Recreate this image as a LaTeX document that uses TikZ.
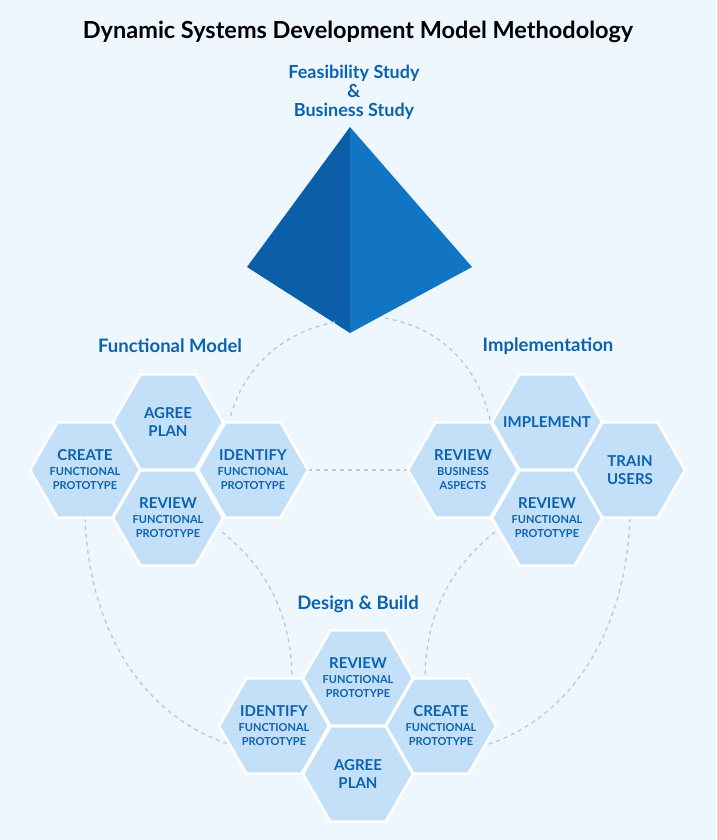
\documentclass[tikz,border=0pt]{standalone}
\usepackage{fontspec}
\setmainfont{Lato}
\begin{document}
\begin{tikzpicture}[x=1pt,y=-1pt,
  hex/.style={fill=hexc,draw=white,line width=2.5pt},
  ht/.style={align=center,text=tc,font=\bfseries\fontsize{15}{18}\selectfont},
  lab/.style={align=center,text=tc,font=\bfseries\fontsize{18.5}{19}\selectfont},
  conn/.style={draw=dashc,line width=1.3pt,dash pattern=on 4pt off 4pt}]
\definecolor{bg}{HTML}{EEF6FE}
\definecolor{hexc}{HTML}{C4DFF8}
\definecolor{tc}{HTML}{0B63AE}
\definecolor{dashc}{HTML}{A9CDEE}
\definecolor{pl}{HTML}{0A5FA8}
\definecolor{pr}{HTML}{1175C4}
\fill[bg] (0,0) rectangle (716,840);
\useasboundingbox (0,0) rectangle (716,840);
\newcommand\sm[1]{{\fontsize{11}{12}\selectfont #1}}
\node[font=\fontsize{23.5}{26}\selectfont\bfseries] (title) at (358,32) {Dynamic Systems Development Model Methodology};
\node[lab,font=\bfseries\fontsize{18}{17}\selectfont] (fs) at (354,92) {Feasibility Study\\[2pt]\&\\[2pt]Business Study};
\fill[pl] (350,127) -- (247,267) -- (350,333) -- cycle;
\fill[pr] (350,127) -- (472,267) -- (350,333) -- cycle;
\coordinate (pbot) at (350,333);
% connectors
\coordinate (c1) at (335,322); \coordinate (c2) at (230,418);
\path[conn] (c1) .. controls (270,335) and (240,380) .. (c2);
\coordinate (c3) at (385,318); \coordinate (c4) at (490,420);
\path[conn] (c3) .. controls (450,330) and (480,375) .. (c4);
\coordinate (c5) at (308,470); \coordinate (c6) at (408,470);
\path[conn] (c5) -- (c6);
\coordinate (c7) at (85,518); \coordinate (c8) at (232,745);
\path[conn] (c7) .. controls (90,640) and (150,720) .. (c8);
\coordinate (c9) at (222,532); \coordinate (c10) at (292,680);
\path[conn] (c9) .. controls (270,570) and (292,620) .. (c10);
\coordinate (c11) at (495,532); \coordinate (c12) at (425,680);
\path[conn] (c11) .. controls (447,570) and (425,620) .. (c12);
\coordinate (c13) at (630,518); \coordinate (c14) at (486,745);
\path[conn] (c13) .. controls (625,640) and (565,720) .. (c14);
% hexes
\foreach \x/\y in {168/422,85/470,253/470,168/518, 547/422,463/470,630/470,547/518, 358/678,274/726,441/726,358/774}
  \path[hex] (\x,\y) +(0:55) -- +(60:55) -- +(120:55) -- +(180:55) -- +(240:55) -- +(300:55) -- cycle;
\node[lab] (fm) at (170,346) {Functional Model};
\node[lab] (im) at (548,346) {Implementation};
\node[lab] (db) at (358,604) {Design \& Build};
\node[ht] (a1) at (168,422) {AGREE\\PLAN};
\node[ht] (a2) at (85,470) {CREATE\\[-3pt]\sm{FUNCTIONAL}\\[-4pt]\sm{PROTOTYPE}};
\node[ht] (a3) at (253,470) {IDENTIFY\\[-3pt]\sm{FUNCTIONAL}\\[-4pt]\sm{PROTOTYPE}};
\node[ht] (a4) at (168,518) {REVIEW\\[-3pt]\sm{FUNCTIONAL}\\[-4pt]\sm{PROTOTYPE}};
\node[ht] (b1) at (547,422) {IMPLEMENT};
\node[ht] (b2) at (463,470) {REVIEW\\[-3pt]\sm{BUSINESS}\\[-4pt]\sm{ASPECTS}};
\node[ht] (b3) at (630,470) {TRAIN\\USERS};
\node[ht] (b4) at (547,518) {REVIEW\\[-3pt]\sm{FUNCTIONAL}\\[-4pt]\sm{PROTOTYPE}};
\node[ht] (d1) at (358,678) {REVIEW\\[-3pt]\sm{FUNCTIONAL}\\[-4pt]\sm{PROTOTYPE}};
\node[ht] (d2) at (274,726) {IDENTIFY\\[-3pt]\sm{FUNCTIONAL}\\[-4pt]\sm{PROTOTYPE}};
\node[ht] (d3) at (441,726) {CREATE\\[-3pt]\sm{FUNCTIONAL}\\[-4pt]\sm{PROTOTYPE}};
\node[ht] (d4) at (358,774) {AGREE\\PLAN};
\end{tikzpicture}
\end{document}
